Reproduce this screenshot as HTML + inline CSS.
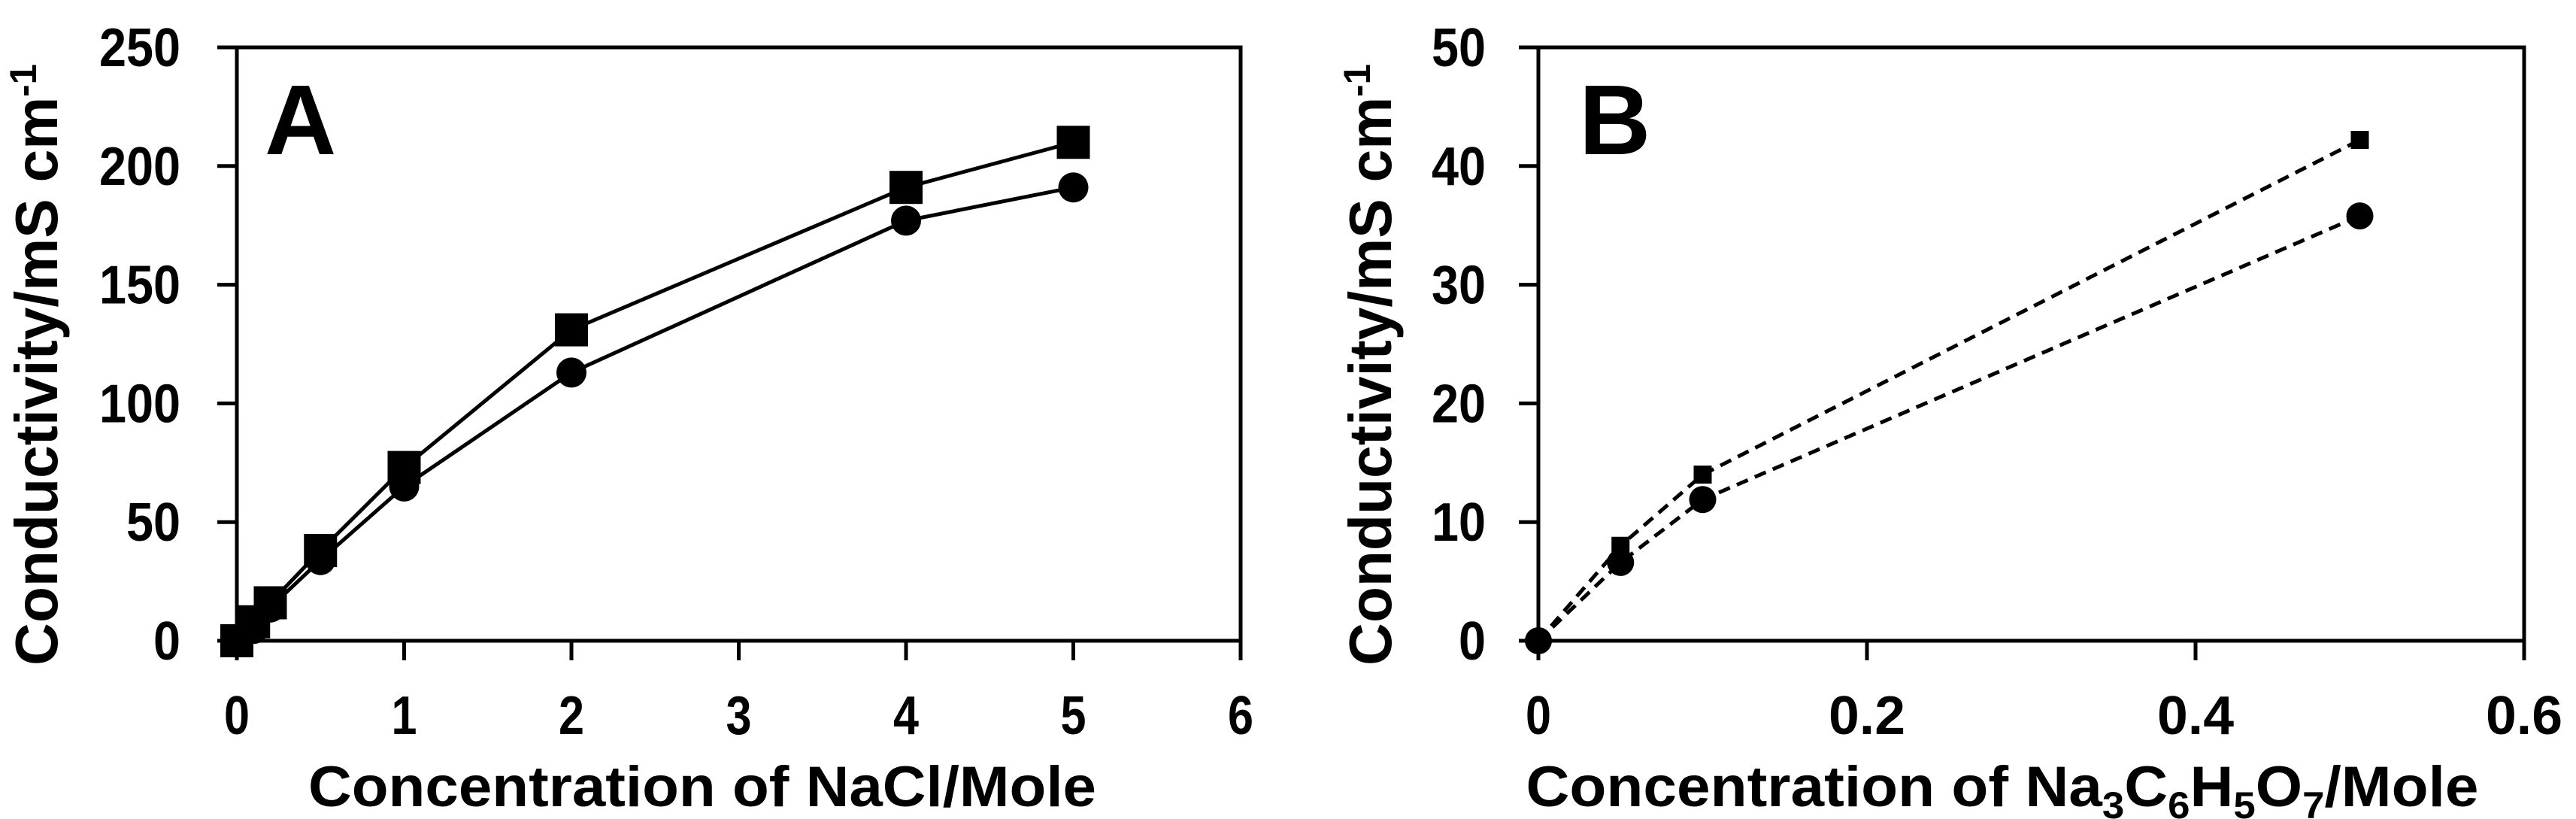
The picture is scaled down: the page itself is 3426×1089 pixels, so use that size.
<!DOCTYPE html>
<html><head><meta charset="utf-8"><style>
html,body{margin:0;padding:0;background:#fff;}
svg{display:block;font-family:"Liberation Sans",Arial,sans-serif;font-weight:bold;}
</style></head><body>
<svg id="chart" width="3426" height="1089" viewBox="0 0 3426 1089" xmlns="http://www.w3.org/2000/svg"></svg>
<script>
const aX = [0, 0.1, 0.2, 0.5, 1, 2, 4, 5];
const aSquare = [0, 8, 16, 38, 73, 131, 191, 210];
const aCircle = [0, 5, 14, 34, 65, 113, 177, 191];
const aXTicks = [0, 1, 2, 3, 4, 5, 6];
const aYTicks = [0, 50, 100, 150, 200, 250];
const bX = [0, 0.05, 0.1, 0.5];
const bSquare = [0, 8, 14, 42.2];
const bCircle = [0, 6.6, 11.9, 35.8];
const bXTicks = [0, 0.2, 0.4, 0.6];
const bXLabels = ["0", "0.2", "0.4", "0.6"];
const bYTicks = [0, 10, 20, 30, 40, 50];

const NS = "http://www.w3.org/2000/svg";
const svg = document.getElementById('chart');
function mk(tag, attrs, parent){const e=document.createElementNS(NS,tag);for(const k in attrs)e.setAttribute(k,attrs[k]);(parent||svg).appendChild(e);return e;}

function panel(o){
  const g = mk('g',{});
  
  
  const sx = v => o.x0 + (v - o.xmin)/(o.xmax - o.xmin)*(o.x1 - o.x0);
  const sy = v => o.y1 - (v - o.ymin)/(o.ymax - o.ymin)*(o.y1 - o.y0);
  const frame = mk('rect',{x:o.x0,y:o.y0,width:o.x1-o.x0,height:o.y1-o.y0,fill:'none',stroke:'#000','stroke-width':5},g);
  
  
  o.yTicks.forEach(v=>{
    const t = mk('line',{x1:o.x0-26,x2:o.x0,y1:sy(v),y2:sy(v),stroke:'#000','stroke-width':5},g);
    
    
    const s = String(v);
    const l = mk('text',{x:o.yLabelX,y:sy(v)+25,'text-anchor':'end','font-size':72,textLength:s.length*36,lengthAdjust:'spacingAndGlyphs'},g);
    l.textContent = s;
    
    
  });
  o.xTicks.forEach((v,i)=>{
    const t = mk('line',{x1:sx(v),x2:sx(v),y1:o.y1,y2:o.y1+26,stroke:'#000','stroke-width':5},g);
    
    
    const s = o.xLabels ? o.xLabels[i] : String(v);
    const l = mk('text',{x:sx(v),y:976,'text-anchor':'middle','font-size':72,textLength:s.length*34,lengthAdjust:'spacingAndGlyphs'},g);
    l.textContent = s;
    
    
  });
  [[o.sq,'square'],[o.ci,'circle']].forEach(([ys,kind])=>{
    const pts = o.xs.map((x,i)=>sx(x)+','+sy(ys[i])).join(' ');
    const pl = mk('polyline',{points:pts,fill:'none',stroke:'#000','stroke-width':5,'stroke-dasharray':o.dash||'none'},g);
    
    
    o.xs.forEach((x,i)=>{
      let m;
      if(kind==='square'){const s=o.sqSize;m=mk('rect',{x:sx(x)-s/2,y:sy(ys[i])-s/2,width:s,height:s,fill:'#000'},g);}
      else m=mk('circle',{cx:sx(x),cy:sy(ys[i]),r:o.cR,fill:'#000'},g);
      
      
    });
  });
  const pl = mk('text',{x:o.letterX,y:205,'font-size':132},g);
  pl.textContent = o.letter;
  
  
  const xt = mk('text',{x:o.xTitleX,y:1072,'text-anchor':'middle','font-size':76,textLength:o.xTitleLen,lengthAdjust:'spacingAndGlyphs'},g);
  xt.innerHTML = o.xTitle;
  
  
  const yt = mk('text',{x:0,y:0,'text-anchor':'middle','font-size':80,textLength:800,lengthAdjust:'spacingAndGlyphs',transform:`translate(${o.yTitleX},485) rotate(-90)`},g);
  yt.innerHTML = 'Conductivity/mS cm<tspan dy="-28" font-size="50">-1</tspan>';
  
  
}

panel({name:'panel-a-nacl',x0:315,x1:1650,y0:63,y1:852,xmin:0,xmax:6,ymin:0,ymax:250,
  xs:aX,sq:aSquare,ci:aCircle,xTicks:aXTicks,yTicks:aYTicks,yLabelX:240,
  sqSize:44,cR:20,letter:'A',letterX:352,xTitleX:934,xTitleLen:1048,yTitleX:76,
  xTitle:'Concentration of NaCl/Mole'});
panel({name:'panel-b-citrate',x0:2046,x1:3357,y0:63,y1:852,xmin:0,xmax:0.6,ymin:0,ymax:50,
  xs:bX,sq:bSquare,ci:bCircle,xTicks:bXTicks,xLabels:bXLabels,yTicks:bYTicks,yLabelX:1976,
  sqSize:24,cR:18,letter:'B',letterX:2100,xTitleX:2663,xTitleLen:1267,yTitleX:1850,dash:'16,10',
  xTitle:'Concentration of Na<tspan dy="16" font-size="50">3</tspan><tspan dy="-16">C</tspan><tspan dy="16" font-size="50">6</tspan><tspan dy="-16">H</tspan><tspan dy="16" font-size="50">5</tspan><tspan dy="-16">O</tspan><tspan dy="16" font-size="50">7</tspan><tspan dy="-16">/Mole</tspan>'});
</script>
</body></html>
